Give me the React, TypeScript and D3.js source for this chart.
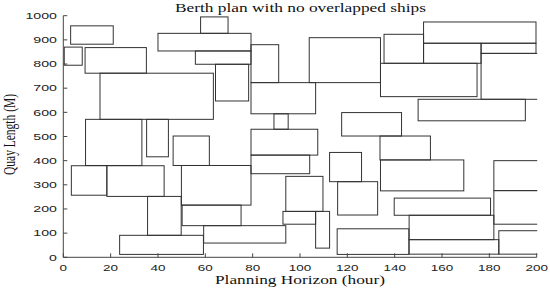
import * as d3 from 'd3';

// Berth plan: one entry per ship (hours on x, quay metres on y)
const startHour = [3.1, 0.4, 9.2, 15.5, 40, 58, 55.8, 64.3, 79.3, 79.3, 89, 79.3, 79.3, 9.4, 35.2, 46.4, 3.4, 18.4, 35.6, 23.8, 49.9, 50.2, 59.3, 94, 92.8, 106.6, 112.5, 115.9, 115.7, 117.6, 133.8, 134, 139.8, 146.1, 146.1, 181.9, 181.9, 184, 152.2, 176.5, 152.2, 176.5, 134, 149.9, 135.5, 103.9];
const endHour = [21.1, 8.0, 35.1, 63.4, 79.3, 69.6, 79.3, 78.3, 91, 106.6, 95, 107.5, 104.1, 33.2, 44.4, 61.7, 18.4, 42.6, 49.8, 59.2, 79.3, 75.1, 94, 109.7, 106.6, 112.5, 126, 132.8, 146, 142.9, 155.1, 169.2, 180.5, 181.9, 184, 205, 205, 205, 199.7, 199.7, 176.5, 205, 174.8, 195.2, 152.2, 134];
const quayFrom = [882, 795, 762, 571, 854, 927, 799, 647, 723, 594, 530, 423, 346, 380, 416, 380, 257, 252, 91, 12, 216, 131, 59, 190, 137, 38, 313, 175, 12, 502, 403, 275, 174, 73, 13, 276, 137, 13, 886, 844, 803, 654, 665, 565, 803, 723];
const quayTo = [958, 870, 868, 762, 927, 995, 854, 799, 880, 723, 594, 530, 423, 571, 571, 502, 379, 379, 252, 91, 380, 216, 131, 335, 190, 190, 434, 313, 118, 599, 502, 403, 245, 174, 73, 400, 276, 110, 974, 886, 886, 844, 803, 654, 923, 909];

const xTicks = [0, 20, 40, 60, 80, 100, 120, 140, 160, 180, 200];
const yTicks = [0, 100, 200, 300, 400, 500, 600, 700, 800, 900, 1000];

const W = 550;
const H = 290;

export default function App() {
  const x = d3.scaleLinear().domain([0, 200]).range([63.3, 536.7]);
  const y = d3.scaleLinear().domain([0, 1000]).range([257.3, 15.7]);
  const ink = '#333';
  const sans = '"Liberation Sans", Arial, sans-serif';
  const serif = '"Liberation Serif", "Times New Roman", serif';

  const ships = startHour.map((s, i) => ({ x0: s, x1: endHour[i], y0: quayFrom[i], y1: quayTo[i] }));

  return (
    <div style={{ position: 'absolute', left: 0, top: 0 }}>
      <svg width={W} height={H} style={{ display: 'block', background: '#fff' }}>
        <defs>
          <clipPath id="plot">
            <rect x={x(0) - 1} y={0} width={x(200) - x(0) + 1.5} height={H} />
          </clipPath>
        </defs>

        <text x={300.5} y={11.5} fontFamily={serif} fontSize={11.5} textAnchor="middle"
          textLength={251} lengthAdjust="spacingAndGlyphs" fill="#111">
          Berth plan with no overlapped ships
        </text>

        {/* ships */}
        <g clipPath="url(#plot)">
          {ships.map((d, i) => (
            <rect key={i} x={x(d.x0)} y={y(d.y1)} width={x(d.x1) - x(d.x0)} height={y(d.y0) - y(d.y1)}
              fill="none" stroke={ink} strokeWidth={1} />
          ))}
        </g>

        {/* axes */}
        <line x1={x(0)} x2={x(0)} y1={y(0)} y2={y(1000)} stroke="#444" strokeWidth={1} />
        <line x1={x(0)} x2={x(200)} y1={y(0)} y2={y(0)} stroke="#444" strokeWidth={1} />
        {yTicks.map(t => (
          <g key={`y${t}`}>
            <line x1={x(0)} x2={x(0) + 4} y1={y(t)} y2={y(t)} stroke="#444" />
            <text x={57} y={y(t) + 3.2} textAnchor="end" fontFamily={sans} fontSize={8.6} fill="#222"
              textLength={String(t).length * 7.9} lengthAdjust="spacingAndGlyphs">{t}</text>
          </g>
        ))}
        {xTicks.map(t => (
          <g key={`x${t}`}>
            <line x1={x(t)} x2={x(t)} y1={y(0)} y2={y(0) - 4} stroke="#444" />
            <text x={x(t)} y={270.5} textAnchor="middle" fontFamily={sans} fontSize={8.6} fill="#222"
              textLength={String(t).length * 7.5} lengthAdjust="spacingAndGlyphs">{t}</text>
          </g>
        ))}

        <text x={300} y={284.3} textAnchor="middle" fontFamily={serif} fontSize={12.5} fill="#111"
          textLength={170} lengthAdjust="spacingAndGlyphs">Planning Horizon (hour)</text>
        <text transform="translate(15,134.5) rotate(-90) scale(1,1.45)" textAnchor="middle"
          fontFamily={serif} fontSize={12} fill="#111" textLength={81} lengthAdjust="spacingAndGlyphs">
          Quay Length (M)
        </text>
      </svg>
    </div>
  );
}
